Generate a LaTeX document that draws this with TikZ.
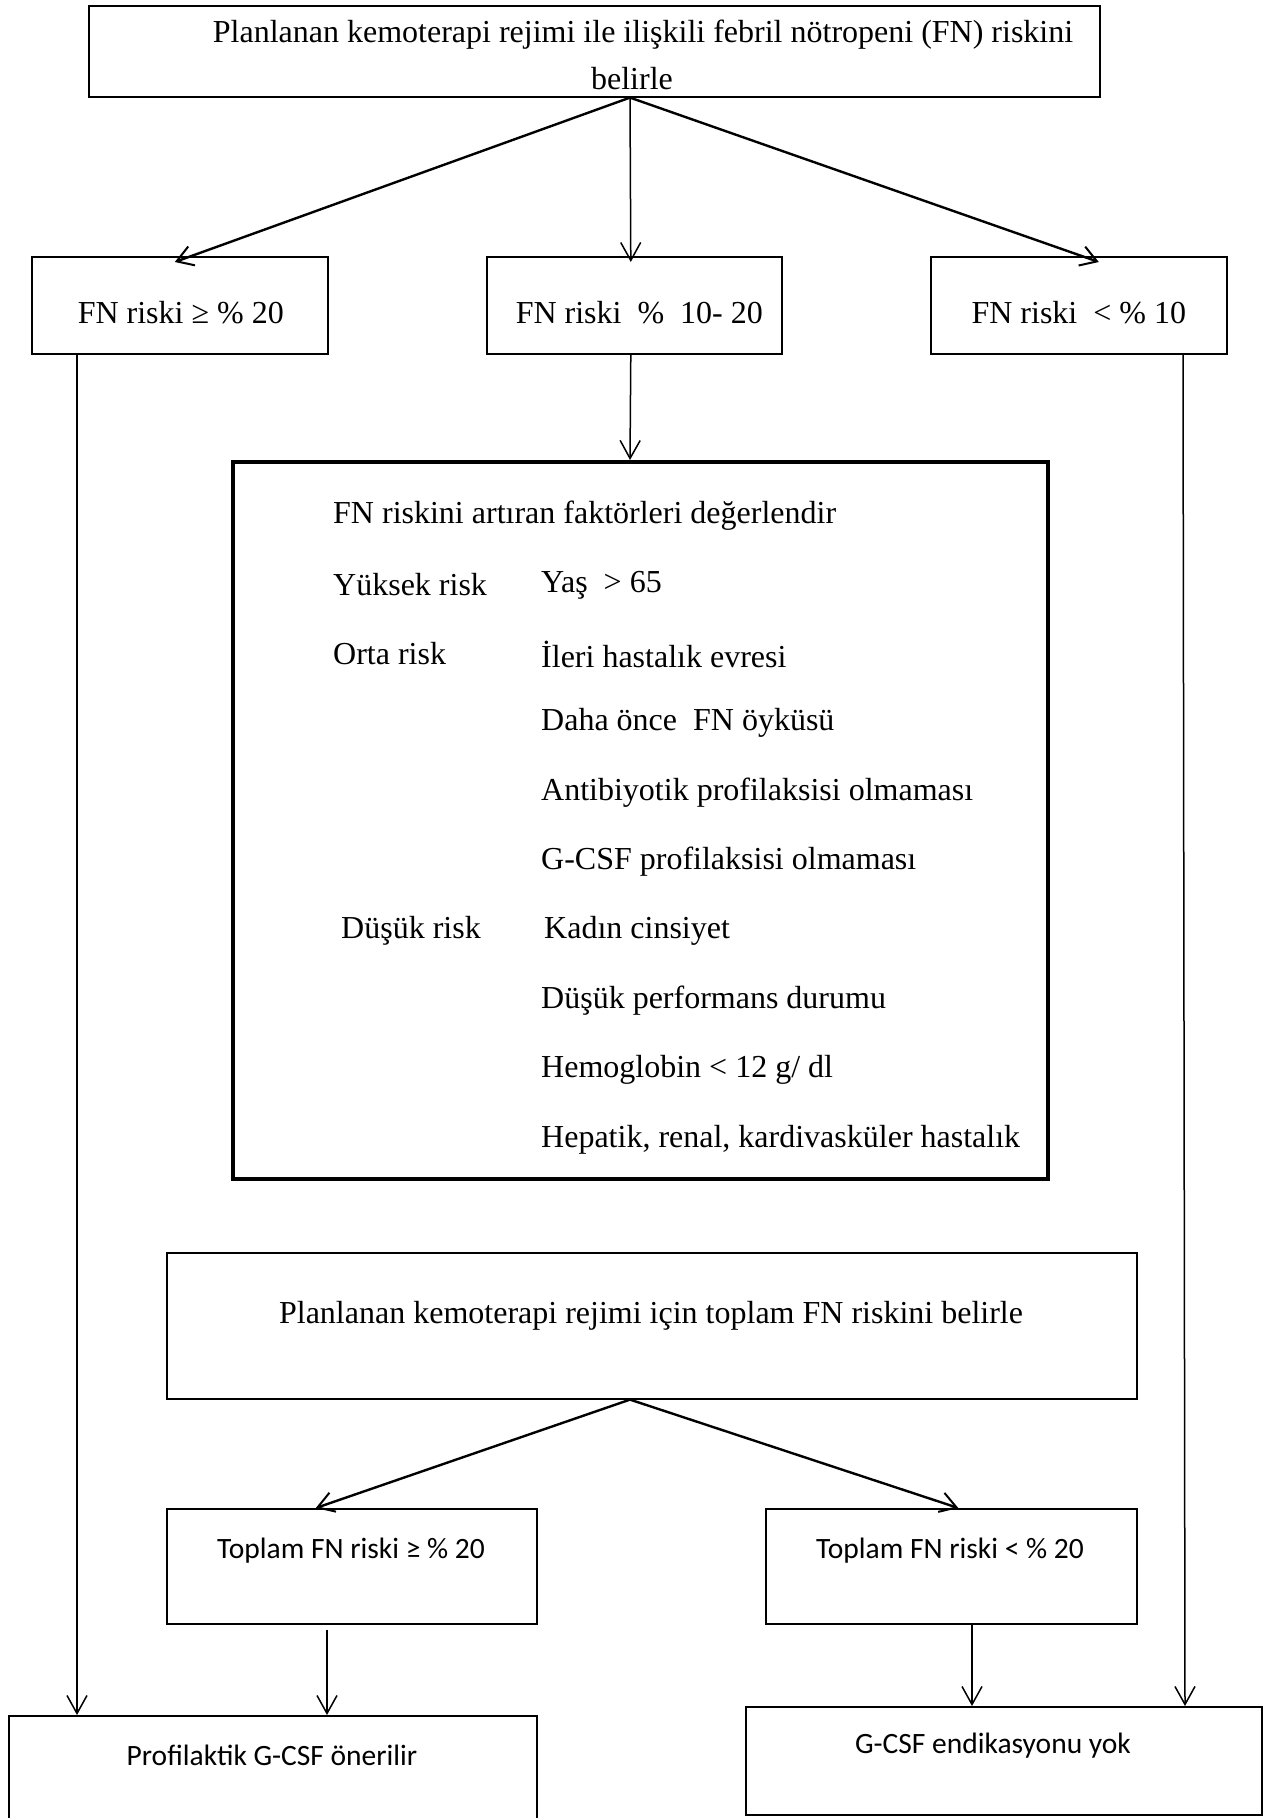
\documentclass[tikz,border=0pt]{standalone}
\usepackage{fontspec}
\setmainfont{Liberation Serif}
\newfontfamily\calibrifont{Carlito}
\usetikzlibrary{arrows.meta,calc}
\begin{document}
\begin{tikzpicture}[x=1pt,y=-1pt,
  box/.style={draw, line width=1.6pt, anchor=north west, inner sep=0pt},
  bigbox/.style={draw, line width=3.5pt, anchor=north west, inner sep=0pt},
  tms/.style={font=\fontsize{32}{38}\selectfont, inner sep=0pt},
  cal/.style={font=\calibrifont\fontsize{29.5}{35}\selectfont, inner sep=0pt},
  thinarr/.style={line width=1.5pt, -{Straight Barb[length=18pt,width=20pt,line width=1.5pt]}},
  diagarr/.style={line width=2.4pt, -{Straight Barb[length=16pt,width=20pt,line width=2pt]}},
  plainline/.style={line width=1.5pt}
]
\useasboundingbox (0,0) rectangle (1265,1818);

% ---- top box
\node[tms] (toptxt1) at (643,35) {Planlanan kemoterapi rejimi ile ilişkili febril nötropeni (FN) riskini};
\node[tms] (toptxt2) at (632,79) {belirle};
\node[box, minimum width=1011pt, minimum height=91pt] (top) at (88,5) {};

% ---- three risk boxes
\node[box, minimum width=296pt, minimum height=97pt] (fn1) at (31,256) {};
\node[tms] at ($(fn1.center)+(1,7)$) {FN riski ≥ \% 20};
\node[box, minimum width=295pt, minimum height=97pt] (fn2) at (486,256) {};
\node[tms] at ($(fn2.center)+(5,7)$) {FN riski \ \% \ 10- 20};
\node[box, minimum width=296pt, minimum height=97pt] (fn3) at (930,256) {};
\node[tms] at ($(fn3.center)+(0,7)$) {FN riski \ < \% 10};

% ---- big factors box
\node[bigbox, minimum width=815pt, minimum height=717pt] (factors) at (231,460) {};
\node[tms, anchor=west] at (333,516) {FN riskini artıran faktörleri değerlendir};
\node[tms, anchor=west] at (333,585) {Yüksek risk};
\node[tms, anchor=west] at (541,585) {Yaş \ > 65};
\node[tms, anchor=west] at (333,654) {Orta risk};
\node[tms, anchor=west] at (541,654) {İleri hastalık evresi};
\node[tms, anchor=west] at (541,723) {Daha önce \ FN öyküsü};
\node[tms, anchor=west] at (541,793) {Antibiyotik profilaksisi olmaması};
\node[tms, anchor=west] at (541,862) {G-CSF profilaksisi olmaması};
\node[tms, anchor=west] at (341,931) {Düşük risk};
\node[tms, anchor=west] at (544,931) {Kadın cinsiyet};
\node[tms, anchor=west] at (541,1001) {Düşük performans durumu};
\node[tms, anchor=west] at (541,1070) {Hemoglobin < 12 g/ dl};
\node[tms, anchor=west] at (541,1140) {Hepatik, renal, kardivasküler hastalık};

% ---- total risk box
\node[box, minimum width=970pt, minimum height=146pt] (total) at (166,1252) {};
\node[tms] at (651,1316) {Planlanan kemoterapi rejimi için toplam FN riskini belirle};

% ---- two total boxes
\node[box, minimum width=370pt, minimum height=115pt] (tot1) at (166,1508) {};
\node[cal] at (351,1551) {Toplam FN riski ≥ \% 20};
\node[box, minimum width=371pt, minimum height=115pt] (tot2) at (765,1508) {};
\node[cal] at (950,1551) {Toplam FN riski < \% 20};

% ---- final boxes
\node[box, minimum width=528pt, minimum height=110pt] (prof) at (8,1715) {};
\node[cal] at (272,1755) {Profilaktik G-CSF önerilir};
\node[box, minimum width=516pt, minimum height=108pt] (nogcsf) at (745,1706) {};
\node[cal] at (993,1746) {G-CSF endikasyonu yok};

% ---- connector coordinates
\coordinate (topapex) at ($(top.south west)+(542,0)$);
\coordinate (fn1in) at ($(fn1.north)+(-5,6)$);
\coordinate (fn2in) at ($(fn2.north)+(-3.5,6)$);
\coordinate (fn3in) at ($(fn3.north)+(20,6)$);
\coordinate (fn1out) at ($(fn1.south west)+(46,0)$);
\coordinate (fn2out) at ($(fn2.south)+(-3.5,0)$);
\coordinate (factin) at ($(factors.north west)+(399,0)$);
\coordinate (fn3out) at ($(fn3.south west)+(253,0)$);
\coordinate (profin1) at ($(prof.north west)+(69,0)$);
\coordinate (profin2) at ($(prof.north west)+(319,0)$);
\coordinate (nogin1) at ($(nogcsf.north west)+(227,0)$);
\coordinate (nogin2) at ($(nogcsf.north west)+(440,0)$);
\coordinate (totapex) at ($(total.south west)+(464,0)$);
\coordinate (tot1in) at ($(tot1.north)+(-36,0)$);
\coordinate (tot2in) at ($(tot2.north)+(7,0)$);
\coordinate (tot1out) at ($(tot1.south west)+(161,5)$);
\coordinate (tot2out) at ($(tot2.south west)+(207,0)$);

% ---- connectors
\draw[diagarr] (topapex) -- (fn1in);
\draw[thinarr] (topapex) -- (fn2in);
\draw[diagarr] (topapex) -- (fn3in);
\draw[thinarr] (fn2out) -- (factin);
\draw[thinarr] (fn1out) -- (profin1);
\draw[thinarr] (fn3out) -- (nogin2);
\draw[diagarr] (totapex) -- (tot1in);
\draw[diagarr] (totapex) -- (tot2in);
\draw[thinarr] (tot1out) -- (profin2);
\draw[thinarr] (tot2out) -- (nogin1);
\end{tikzpicture}
\end{document}
